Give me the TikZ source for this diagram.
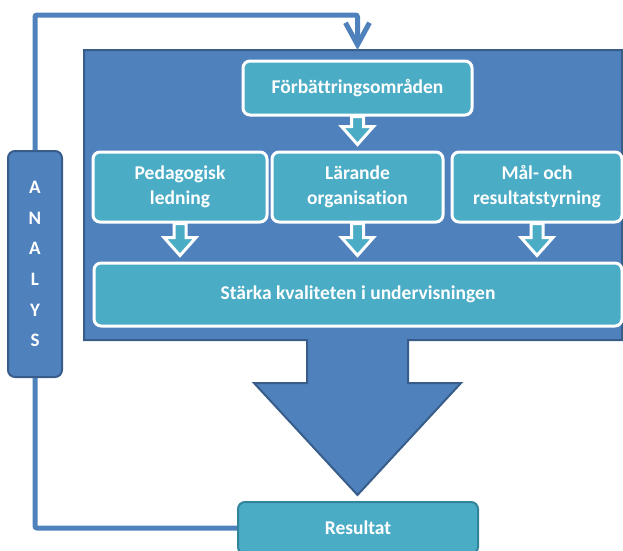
\documentclass[tikz,border=0pt]{standalone}
\usepackage{fontspec}
\setmainfont{Carlito}[Ligatures=NoCommon]
\usetikzlibrary{arrows.meta,calc}
\definecolor{bgblue}{HTML}{4F81BD}
\definecolor{bgedge}{HTML}{385D8A}
\definecolor{teal}{HTML}{4BACC6}
\definecolor{tealedge}{HTML}{31849B}
\tikzset{
  innerbox/.style={rounded corners=7pt, fill=teal, draw=white, line width=3pt,
    text=white, font=\bfseries\fontsize{19.5}{25}\selectfont, align=center,
    inner sep=0pt},
  resbox/.style={rounded corners=7pt, fill=teal, draw=tealedge, line width=2pt,
    text=white, font=\bfseries\fontsize{19.5}{25}\selectfont, inner sep=0pt},
  analysbox/.style={rounded corners=7pt, fill=bgblue, draw=bgedge, line width=2pt,
    text=white, font=\bfseries\fontsize{19}{30.6}\selectfont, align=center, inner sep=0pt},
  bigshape/.style={fill=bgblue, draw=bgedge, line width=2pt, line join=miter},
  feedback/.style={draw=bgblue, line width=5pt, rounded corners=2pt},
  smallarrow/.style={fill=teal, draw=white, line width=3pt, line join=miter},
}
\newcommand{\blockarr}[2]{%
  \draw[smallarrow] let \p1=(#1.south), \p2=(#2.north) in
    (\x1-6pt,\y1) -- (\x1-6pt,\y2+24pt) -- (\x1-16pt,\y2+24pt) -- (\x1,\y2+6pt)
    -- (\x1+16pt,\y2+24pt) -- (\x1+6pt,\y2+24pt) -- (\x1+6pt,\y1) -- cycle;}
\begin{document}
\begin{tikzpicture}[x=1pt,y=-1pt]
  \useasboundingbox (0,0) rectangle (623,550);
  \clip (0,0) rectangle (623,550);
  % big blue block with down arrow
  \draw[bigshape] (84,50) -- (622,50) -- (622,340) -- (408,340) -- (408,383)
    -- (461,383) -- (357.5,495) -- (254,383) -- (307,383) -- (307,340)
    -- (84,340) -- cycle;
  \coordinate (topin) at (357.5,50);
  % inner boxes
  \node[innerbox, minimum width=229, minimum height=54] (forb) at (357.5,88) {Förbättringsområden};
  \node[innerbox, minimum width=174, minimum height=70] (ped) at (180,187) {Pedagogisk\\ledning};
  \node[innerbox, minimum width=171, minimum height=70] (lar) at (357.5,187) {Lärande\\organisation};
  \node[innerbox, minimum width=170, minimum height=70] (mal) at (537,187) {Mål- och\\resultatstyrning};
  \node[innerbox, minimum width=528, minimum height=63] (stark) at (358,294.5) {Stärka kvaliteten i undervisningen};
  % small block arrows
  \blockarr{forb}{lar}
  \blockarr{ped}{stark}
  \blockarr{lar}{stark}
  \blockarr{mal}{stark}
  % result box
  \node[resbox, minimum width=240, minimum height=52] (res) at (358,528) {Resultat};
  % analys box
  \node[analysbox, minimum width=54, minimum height=226] (analys) at (35,264) {A\\N\\A\\L\\Y\\S};
  % feedback loop
  \draw[feedback, -{Straight Barb[length=22pt,width=24pt,line width=5pt]}]
    (analys.north) |- ($(topin)+(0,-35)$) -- (topin);
  \draw[feedback] (analys.south) |- (res.west);
\end{tikzpicture}
\end{document}
